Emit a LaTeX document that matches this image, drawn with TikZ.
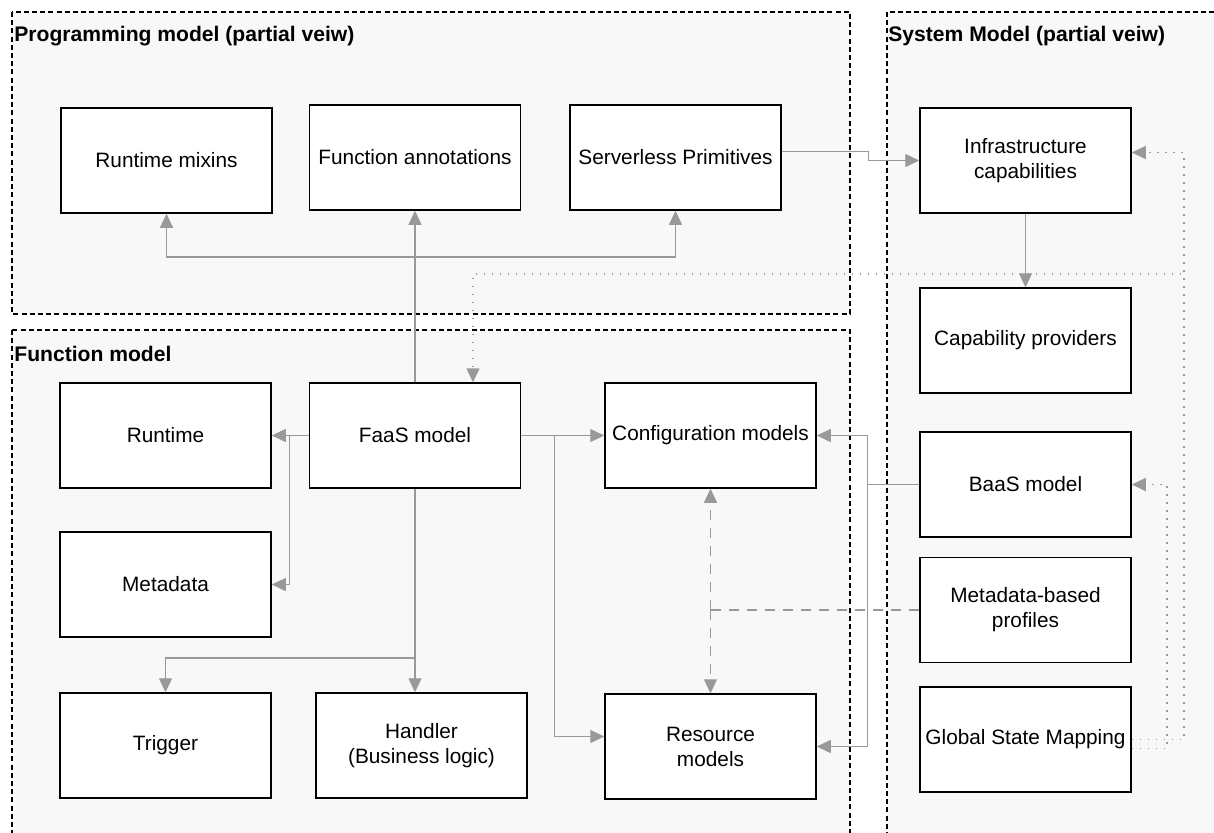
\documentclass[tikz,border=0pt]{standalone}
\usepackage{fontspec}
\setmainfont{Liberation Sans}
\usetikzlibrary{arrows.meta}
\definecolor{linegray}{HTML}{999999}
\definecolor{panelfill}{HTML}{F8F8F8}
\begin{document}
\begin{tikzpicture}[x=0.5pt,y=-0.5pt,
    every node/.style={font=\fontsize{10.4}{12.5}\selectfont},
    panel/.style={draw=black,fill=panelfill,line width=0.75pt,dash pattern=on 2.5pt off 1.6pt},
    blk/.style={draw=black,fill=white,line width=0.75pt,minimum width=105.5pt,minimum height=52.5pt,align=center,inner sep=1pt},
    title/.style={anchor=west,inner sep=0pt,font=\fontsize{10.55}{12.5}\selectfont\bfseries},
    conn/.style={draw=linegray,line width=0.65pt,-{Triangle[length=7pt,width=6.5pt]}},
    dots/.style={conn,line width=0.75pt,dash pattern=on 0.8pt off 3.2pt},
    dashline/.style={conn,dash pattern=on 5pt off 4pt}]
    \useasboundingbox (0,0) rectangle (1214,832);
    \clip (0,0) rectangle (1214,832);
    \draw[panel] (12,12) rectangle (850,314);
    \draw[panel] (12,330) rectangle (850,860);
    \draw[panel] (887,12) rectangle (1240,860);
    \node[title] (ptitle) at (14,36) {Programming model (partial veiw)};
    \node[title] (ftitle) at (14,354) {Function model};
    \node[title] (stitle) at (888,36) {System Model (partial veiw)};
    \node[blk] (mixins) at (166.5,160.5) {Runtime mixins};
    \node[blk] (annot) at (415,157.5) {Function annotations};
    \node[blk] (prims) at (675.5,157.5) {Serverless Primitives};
    \node[blk] (infra) at (1025.5,160.5) {Infrastructure\\capabilities};
    \node[blk] (prov) at (1025.5,340.5) {Capability providers};
    \node[blk] (baas) at (1025.5,484.5) {BaaS model};
    \node[blk] (mprof) at (1025.5,610) {Metadata-based\\profiles};
    \node[blk] (gsm) at (1025.5,739.5) {Global State Mapping};
    \node[blk] (runtime) at (165.5,435.5) {Runtime};
    \node[blk] (faas) at (415,435.5) {FaaS model};
    \node[blk] (meta) at (165.5,584.5) {Metadata};
    \node[blk] (trig) at (165.5,745.5) {Trigger};
    \node[blk] (handler) at (421.5,745.5) {Handler\\(Business logic)};
    \node[blk] (config) at (710.5,435.5) {Configuration models};
    \node[blk] (res) at (710.5,746.5) {Resource\\models};
    \coordinate (up) at (415,257);
    \coordinate (fork) at (473,274);
    \coordinate (split) at (415,658);
    \coordinate (mid) at (710.5,610);
    \draw[conn] (faas.north) -- (annot.south);
    \draw[conn] (up) -| (mixins.south);
    \draw[conn] (up) -| (prims.south);
    \draw[conn] ([yshift=3pt]prims.east) -- ++(87,0) |- (infra.west);
    \draw[conn] (infra.south) -- (prov.north);
    \draw[dots] (gsm.east) -- ++(52,0) |- ([yshift=4pt]infra.east);
    \draw[dots] (gsm.east) -- ++(52,0) |- (fork) -- (fork |- faas.north);
    \draw[dots] ([yshift=-4.5pt]gsm.east) -- ++(35,0) |- (baas.east);
    \draw[conn] (faas.west) -- (runtime.east);
    \draw[conn] (faas.west) -- ++(-19,0) |- (meta.east);
    \draw[conn] (faas.east) -- (config.west);
    \draw[conn] (faas.east) -- ++(33,0) |- ([yshift=5pt]res.west);
    \draw[conn] (faas.south) -- (faas.south |- handler.north);
    \draw[conn] (split) -| (trig.north);
    \draw[conn] (baas.west) -- ++(-52,0) |- (config.east);
    \draw[conn] (baas.west) -- ++(-52,0) |- (res.east);
    \draw[dashline,-] (mprof.west) -- (mid);
    \draw[dashline] (mid) -- (config.south);
    \draw[dashline] (mid) -- (res.north);
\end{tikzpicture}
\end{document}
